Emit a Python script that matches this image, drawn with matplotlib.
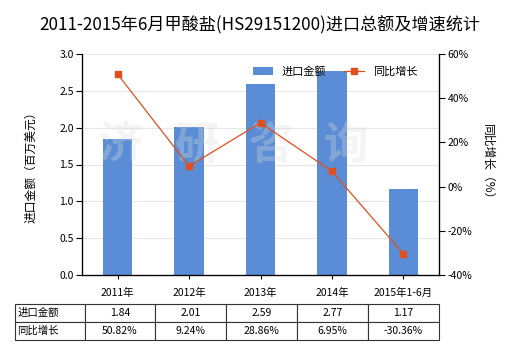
import matplotlib
matplotlib.use("Agg")
import matplotlib.pyplot as plt
import numpy as np

plt.rcParams['font.family'] = ['Noto Sans CJK SC', 'DejaVu Sans']

categories = ["2011年", "2012年", "2013年", "2014年", "2015年1-6月"]
import_values = [1.84, 2.01, 2.59, 2.77, 1.17]
growth_values = [50.82, 9.24, 28.86, 6.95, -30.36]
import_labels = ["1.84", "2.01", "2.59", "2.77", "1.17"]
growth_labels = ["50.82%", "9.24%", "28.86%", "6.95%", "-30.36%"]
left_ticks = [0.0, 0.5, 1.0, 1.5, 2.0, 2.5, 3.0]
right_ticks = [-40, -20, 0, 20, 40, 60]

bar_color = "#5a8dd5"
line_color = "#e0501e"

fig = plt.figure(figsize=(5.2, 3.5), dpi=100)
ax = fig.add_axes([82/520, 75/350, 357/520, 221/350])
x = np.arange(len(categories))

ax.set_xlim(-0.5, len(categories) - 0.5)
ax.set_ylim(0, 3.0)
ax.set_yticks(left_ticks)
ax.set_yticklabels([f"{v:.1f}" for v in left_ticks], fontsize=7.5)
for v in left_ticks[1:]:
    ax.axhline(v, color="#e6e6e6", lw=0.8, zorder=0)
bars = ax.bar(x, import_values, width=0.41, color=bar_color, zorder=2, label="进口金额")
ax.set_xticks(x)
ax.set_xticklabels(categories, fontsize=7.5)
ax.tick_params(axis='x', length=3, pad=6)
ax.tick_params(axis='y', length=4, pad=2)
ax.spines['top'].set_visible(False)
for s in ['left', 'bottom', 'right']:
    ax.spines[s].set_linewidth(0.9)
ax.set_ylabel("进口金额（百万美元）", fontsize=8.5, labelpad=16)

# watermark
for i, ch in enumerate(["济", "研", "咨", "询"]):
    ax.text(i * 1.05 + 0.05, 1.75, ch, fontsize=32, color="#dddddd", alpha=0.3,
            ha="center", va="center", fontweight="bold", zorder=3)

ax2 = ax.twinx()
ax2.set_ylim(-40, 60)
ax2.set_yticks(right_ticks)
ax2.set_yticklabels([f"{v}%" for v in right_ticks], fontsize=7.5)
ax2.tick_params(axis='y', length=4, pad=2)
ax2.spines['top'].set_visible(False)
ax2.plot(x, growth_values, color=line_color, lw=0.9, marker='s', markersize=4.5,
         label="同比增长", zorder=4)
ax2.set_ylabel("同比增长（%）", fontsize=8.5, rotation=270, labelpad=16)

# legend
handles = [bars, ax2.get_lines()[0]]
leg = ax.legend(handles, ["进口金额", "同比增长"], loc="upper left",
                bbox_to_anchor=(0.45, 0.99), ncol=2, frameon=False, fontsize=8,
                handlelength=1.8, columnspacing=1.6)
leg.set_zorder(10)

fig.suptitle("2011-2015年6月甲酸盐(HS29151200)进口总额及增速统计", fontsize=12.3, y=0.955)

# table
cell_text = [["进口金额"] + import_labels, ["同比增长"] + growth_labels]
tx0 = (15 - 82) / 357
tab = ax.table(cellText=cell_text, cellLoc='center',
               bbox=[tx0, (275 - 340) / 221, 1 - tx0, 36 / 221],
               colWidths=[70] + [71.4] * 5)
tab.auto_set_font_size(False)
tab.set_fontsize(7.5)
for (r, c), cell in tab.get_celld().items():
    cell.set_linewidth(0.8)
    cell.set_edgecolor("#333333")
    if c == 0:
        cell.set_text_props(ha='left')
        cell.PAD = 0.03

fig.savefig("out.png", dpi=100)
